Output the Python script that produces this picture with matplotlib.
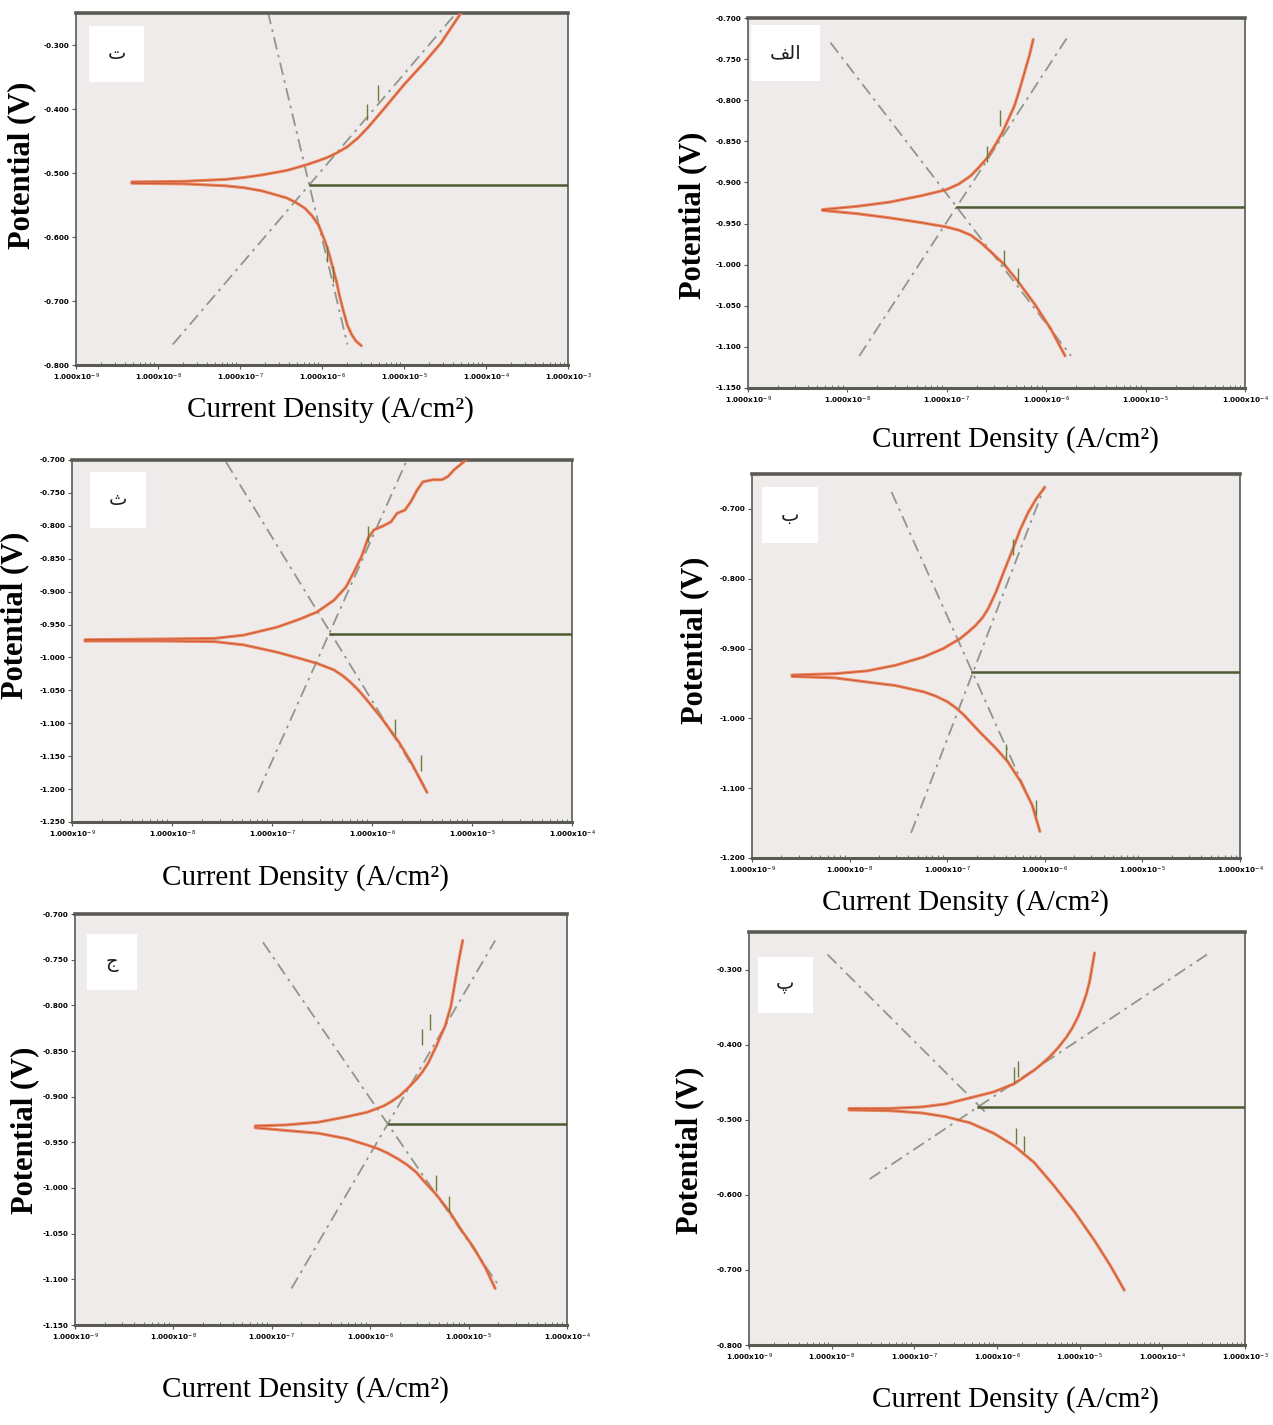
import numpy as np
import matplotlib
matplotlib.use("Agg")
import matplotlib.pyplot as plt
from matplotlib.ticker import FixedLocator, LogLocator, NullFormatter

# ---------------------------------------------------------------------------
# Data: log10(current density, A/cm2) and potential (V)
# ---------------------------------------------------------------------------

# panel ت (top left)
t_an_log = [-8.32, -7.68, -7.18, -6.95, -6.73, -6.43, -6.21, -6.07, -5.94, -5.81, -5.69, -5.56, -5.44,
            -5.34, -5.24, -5.00, -4.75, -4.55, -4.30]
t_an_e = [-0.514, -0.513, -0.510, -0.507, -0.503, -0.496, -0.488, -0.482, -0.476, -0.468, -0.459, -0.445, -0.429,
          -0.414, -0.399, -0.362, -0.327, -0.297, -0.249]
t_ca_log = [-8.32, -7.68, -7.18, -6.95, -6.73, -6.43, -6.32, -6.21, -6.12, -6.04, -5.99, -5.94, -5.90,
            -5.86, -5.82, -5.79, -5.74, -5.69, -5.64, -5.59, -5.52]
t_ca_e = [-0.516, -0.517, -0.520, -0.523, -0.528, -0.539, -0.546, -0.555, -0.567, -0.582, -0.598, -0.615, -0.633,
          -0.652, -0.671, -0.690, -0.715, -0.738, -0.752, -0.762, -0.770]
t_tafel_an = ([-7.82, -4.35], [-0.768, -0.248])
t_tafel_ca = ([-6.66, -5.69], [-0.248, -0.768])
t_ecorr = (-6.15, -0.519)
t_marks = ([-5.45, -5.32, -5.94, -5.86], [-0.405, -0.375, -0.626, -0.658])

# panel الف (top right)
a_an_log = [-8.25, -7.90, -7.58, -7.25, -7.01, -6.88, -6.76, -6.68, -6.60, -6.52, -6.44, -6.38, -6.32,
            -6.27, -6.22, -6.17, -6.13]
a_an_e = [-0.933, -0.929, -0.924, -0.916, -0.909, -0.902, -0.892, -0.882, -0.871, -0.856, -0.839, -0.823, -0.807,
          -0.788, -0.767, -0.746, -0.726]
a_ca_log = [-8.25, -7.90, -7.58, -7.25, -7.01, -6.88, -6.76, -6.66, -6.56, -6.42, -6.28, -6.11, -5.95, -5.81]
a_ca_e = [-0.934, -0.938, -0.943, -0.949, -0.954, -0.958, -0.964, -0.973, -0.984, -1.000, -1.021, -1.049, -1.079, -1.111]
a_tafel_an = ([-7.88, -5.79], [-1.111, -0.724])
a_tafel_ca = ([-8.17, -5.75], [-0.730, -1.111])
a_ecorr = (-6.90, -0.930)
a_marks = ([-6.60, -6.46, -6.42, -6.28], [-0.866, -0.822, -0.992, -1.014])

# panel ث (middle left)
s_an_log = [-8.87, -8.10, -7.57, -7.28, -6.95, -6.80, -6.71, -6.55, -6.38, -6.26, -6.18, -6.10, -6.04, -5.98,
            -5.90, -5.81, -5.75, -5.67, -5.61, -5.55, -5.49, -5.39, -5.30, -5.24, -5.18, -5.10, -5.06]
s_an_e = [-0.973, -0.972, -0.971, -0.966, -0.954, -0.946, -0.941, -0.931, -0.913, -0.893, -0.870, -0.845, -0.819, -0.806,
          -0.801, -0.794, -0.781, -0.776, -0.763, -0.746, -0.733, -0.730, -0.730, -0.725, -0.715, -0.705, -0.700]
s_ca_log = [-8.87, -8.10, -7.57, -7.28, -6.95, -6.71, -6.55, -6.38, -6.30, -6.22, -6.14, -6.06, -5.90, -5.73, -5.61, -5.45]
s_ca_e = [-0.975, -0.975, -0.976, -0.981, -0.992, -1.002, -1.009, -1.019, -1.027, -1.037, -1.049, -1.063, -1.093, -1.129, -1.159, -1.205]
s_tafel_an = ([-7.14, -5.65], [-1.205, -0.700])
s_tafel_ca = ([-7.46, -5.47], [-0.703, -1.197])
s_ecorr = (-6.42, -0.964)
s_marks = ([-6.04, -5.77, -5.51], [-0.812, -1.106, -1.160])

# panel ب (middle right)
b_an_log = [-8.59, -8.15, -7.82, -7.53, -7.24, -7.14, -7.04, -6.87, -6.79, -6.71, -6.64, -6.58, -6.50, -6.42,
            -6.34, -6.25, -6.17, -6.09, -6.00]
b_an_e = [-0.938, -0.936, -0.932, -0.924, -0.912, -0.906, -0.900, -0.886, -0.877, -0.867, -0.856, -0.843, -0.819, -0.790,
          -0.762, -0.729, -0.705, -0.686, -0.669]
b_ca_log = [-8.59, -8.15, -7.82, -7.53, -7.24, -7.12, -7.00, -6.91, -6.83, -6.75, -6.67, -6.50, -6.38, -6.25, -6.13, -6.05]
b_ca_e = [-0.940, -0.942, -0.948, -0.953, -0.962, -0.968, -0.976, -0.985, -0.995, -1.007, -1.019, -1.043, -1.062, -1.090, -1.124, -1.162]
b_tafel_an = ([-7.37, -6.00], [-1.164, -0.667])
b_tafel_ca = ([-7.57, -6.07], [-0.676, -1.143])
b_ecorr = (-6.75, -0.933)
b_marks = ([-6.33, -6.40, -6.09], [-0.755, -1.048, -1.128])

# panel ج (bottom left)
j_an_log = [-7.17, -6.86, -6.53, -6.24, -6.03, -5.86, -5.78, -5.70, -5.62, -5.53, -5.47, -5.41, -5.33, -5.29,
            -5.24, -5.21, -5.18, -5.14, -5.10, -5.06]
j_an_e = [-0.932, -0.931, -0.928, -0.922, -0.917, -0.910, -0.905, -0.899, -0.891, -0.881, -0.873, -0.863, -0.845, -0.835,
          -0.823, -0.812, -0.801, -0.776, -0.751, -0.729]
j_ca_log = [-7.17, -6.86, -6.53, -6.24, -6.03, -5.92, -5.82, -5.72, -5.62, -5.53, -5.45, -5.33, -5.20, -5.08, -4.95, -4.83, -4.73]
j_ca_e = [-0.934, -0.937, -0.940, -0.946, -0.953, -0.957, -0.962, -0.968, -0.975, -0.983, -0.993, -1.007, -1.025, -1.045, -1.065, -1.087, -1.110]
j_tafel_an = ([-6.80, -4.73], [-1.110, -0.729])
j_tafel_ca = ([-7.09, -4.68], [-0.731, -1.109])
j_ecorr = (-5.81, -0.930)
j_marks = ([-5.39, -5.47, -5.33, -5.20], [-0.818, -0.835, -0.995, -1.018])

# panel پ (bottom right)
p_an_log = [-7.79, -7.30, -6.91, -6.62, -6.33, -6.04, -5.79, -5.55, -5.45, -5.36, -5.26, -5.16, -5.09, -5.02,
            -4.97, -4.92, -4.88, -4.85, -4.82]
p_an_e = [-0.485, -0.485, -0.483, -0.479, -0.471, -0.463, -0.452, -0.434, -0.425, -0.416, -0.404, -0.390, -0.378, -0.363,
          -0.349, -0.333, -0.316, -0.297, -0.278]
p_ca_log = [-7.79, -7.30, -6.91, -6.62, -6.33, -6.04, -5.79, -5.55, -5.31, -5.06, -4.82, -4.63, -4.46]
p_ca_e = [-0.487, -0.488, -0.491, -0.496, -0.504, -0.518, -0.535, -0.557, -0.588, -0.623, -0.661, -0.694, -0.727]
p_tafel_an = ([-7.54, -3.46], [-0.579, -0.280])
p_tafel_ca = ([-8.05, -6.13], [-0.280, -0.491])
p_ecorr = (-6.23, -0.483)
p_marks = ([-5.79, -5.74, -5.77, -5.67], [-0.440, -0.432, -0.522, -0.532])

# ---------------------------------------------------------------------------

BG = "#EFEBEA"
CURVE = "#EE7A4C"
CURVE_DARK = "#B5482E"
TAFEL = "#8E978A"
ECORR = "#4D5A30"
SPINE = "#5A5A55"

fig = plt.figure(figsize=(12.73, 14.25), dpi=100)
W, H = 1273, 1425


def px_rect(left, right, top, bottom):
    return [left / W, 1 - bottom / H, (right - left) / W, (bottom - top) / H]


def draw_panel(box, label, label_xy, an, ca, tafel_an, tafel_ca, ecorr, marks,
               ylim, yticks, xmax_exp, ylab_xy, xlab_xy):
    ax = fig.add_axes(px_rect(*box))
    ax.set_facecolor(BG)
    ax.set_xscale("log")
    ax.set_xlim(1e-9, 10.0 ** xmax_exp)
    ax.set_ylim(*ylim)

    # Tafel extrapolation lines
    for lx, ly in (tafel_an, tafel_ca):
        ax.plot(10.0 ** np.array(lx), ly, linestyle=(0, (7, 3, 1.5, 3)),
                color=TAFEL, linewidth=1.3, zorder=2)

    # measured branches
    for lx, ly in (an, ca):
        x = 10.0 ** np.array(lx)
        ax.plot(x, ly, color=CURVE, linewidth=2.2, alpha=0.9, zorder=3,
                solid_capstyle="round", solid_joinstyle="round")
        ax.plot(x, ly, color=CURVE_DARK, linewidth=0.6, alpha=0.8, zorder=4)

    # corrosion current marker line
    ax.plot([10.0 ** ecorr[0], 10.0 ** xmax_exp], [ecorr[1], ecorr[1]],
            color=ECORR, linewidth=1.8, zorder=3)

    # Tafel fit markers
    ax.plot(10.0 ** np.array(marks[0]), marks[1], linestyle="none",
            marker="|", markersize=11, markeredgewidth=1.0,
            color="#6E7B3A", zorder=5)

    # ticks
    xt = [10.0 ** e for e in range(-9, xmax_exp + 1)]
    ax.xaxis.set_major_locator(FixedLocator(xt))
    ax.set_xticklabels([f"1.000x10$^{{{e}}}$" for e in range(-9, xmax_exp + 1)])
    ax.xaxis.set_minor_locator(LogLocator(base=10, subs=np.arange(2, 10), numticks=20))
    ax.xaxis.set_minor_formatter(NullFormatter())
    ax.set_yticks(yticks)
    ax.set_yticklabels([f"{v:.3f}" for v in yticks])
    ax.tick_params(axis="both", which="major", labelsize=5.2, length=3,
                   width=0.8, color=SPINE, pad=1.5)
    ax.tick_params(axis="x", which="minor", length=2.5, width=0.6,
                   color=SPINE, direction="in")
    for lab in ax.get_xticklabels() + ax.get_yticklabels():
        lab.set_fontweight("bold")

    for side, lw in (("top", 2.6), ("bottom", 2.2), ("left", 1.2), ("right", 1.2)):
        ax.spines[side].set_linewidth(lw)
        ax.spines[side].set_color(SPINE)

    # panel letter in a white box
    ax.text(label_xy[0], label_xy[1], label, transform=ax.transAxes,
            ha="center", va="center", fontsize=14, family=["DejaVu Sans"],
            color="#1E1E1E",
            bbox=dict(boxstyle="square,pad=0.95", facecolor="white",
                      edgecolor="none"), zorder=6)

    fig.text(ylab_xy[0] / W, 1 - ylab_xy[1] / H, "Potential (V)", rotation=90,
             ha="center", va="center", fontsize=22, fontweight="bold",
             family=["Liberation Serif", "DejaVu Serif"])
    fig.text(xlab_xy[0] / W, 1 - xlab_xy[1] / H, "Current Density (A/cm²)",
             ha="center", va="center", fontsize=21,
             family=["Liberation Serif", "DejaVu Serif"])
    return ax


plt.rcParams["mathtext.fontset"] = "dejavusans"

tick_03 = [-0.3, -0.4, -0.5, -0.6, -0.7, -0.8]

draw_panel((76, 568, 13, 365), "\u062A", (0.083, 0.884),
           (t_an_log, t_an_e), (t_ca_log, t_ca_e), t_tafel_an, t_tafel_ca, t_ecorr, t_marks,
           (-0.8, -0.25), tick_03, -3, (22, 165), (330, 410))

draw_panel((748, 1245, 18, 388), "\uFED2\uFEDF\uFE8D", (0.075, 0.905),
           (a_an_log, a_an_e), (a_ca_log, a_ca_e), a_tafel_an, a_tafel_ca, a_ecorr, a_marks,
           (-1.15, -0.70), list(np.round(np.arange(-0.70, -1.151, -0.05), 3)), -4,
           (693, 215), (1015, 440))

draw_panel((72, 572, 460, 822), "\u062B", (0.092, 0.89),
           (s_an_log, s_an_e), (s_ca_log, s_ca_e), s_tafel_an, s_tafel_ca, s_ecorr, s_marks,
           (-1.25, -0.70), list(np.round(np.arange(-0.70, -1.251, -0.05), 3)), -4,
           (15, 615), (305, 878))

draw_panel((752, 1240, 474, 858), "\u0628", (0.078, 0.893),
           (b_an_log, b_an_e), (b_ca_log, b_ca_e), b_tafel_an, b_tafel_ca, b_ecorr, b_marks,
           (-1.2, -0.65), [-0.7, -0.8, -0.9, -1.0, -1.1, -1.2], -4,
           (695, 640), (965, 903))

draw_panel((75, 567, 914, 1325), "\u062C", (0.075, 0.883),
           (j_an_log, j_an_e), (j_ca_log, j_ca_e), j_tafel_an, j_tafel_ca, j_ecorr, j_marks,
           (-1.15, -0.70), list(np.round(np.arange(-0.70, -1.151, -0.05), 3)), -4,
           (25, 1130), (305, 1390))

draw_panel((749, 1245, 932, 1345), "\u067E", (0.073, 0.872),
           (p_an_log, p_an_e), (p_ca_log, p_ca_e), p_tafel_an, p_tafel_ca, p_ecorr, p_marks,
           (-0.8, -0.25), tick_03, -3, (690, 1150), (1015, 1400))

fig.savefig("out.png", dpi=100, facecolor="white")
